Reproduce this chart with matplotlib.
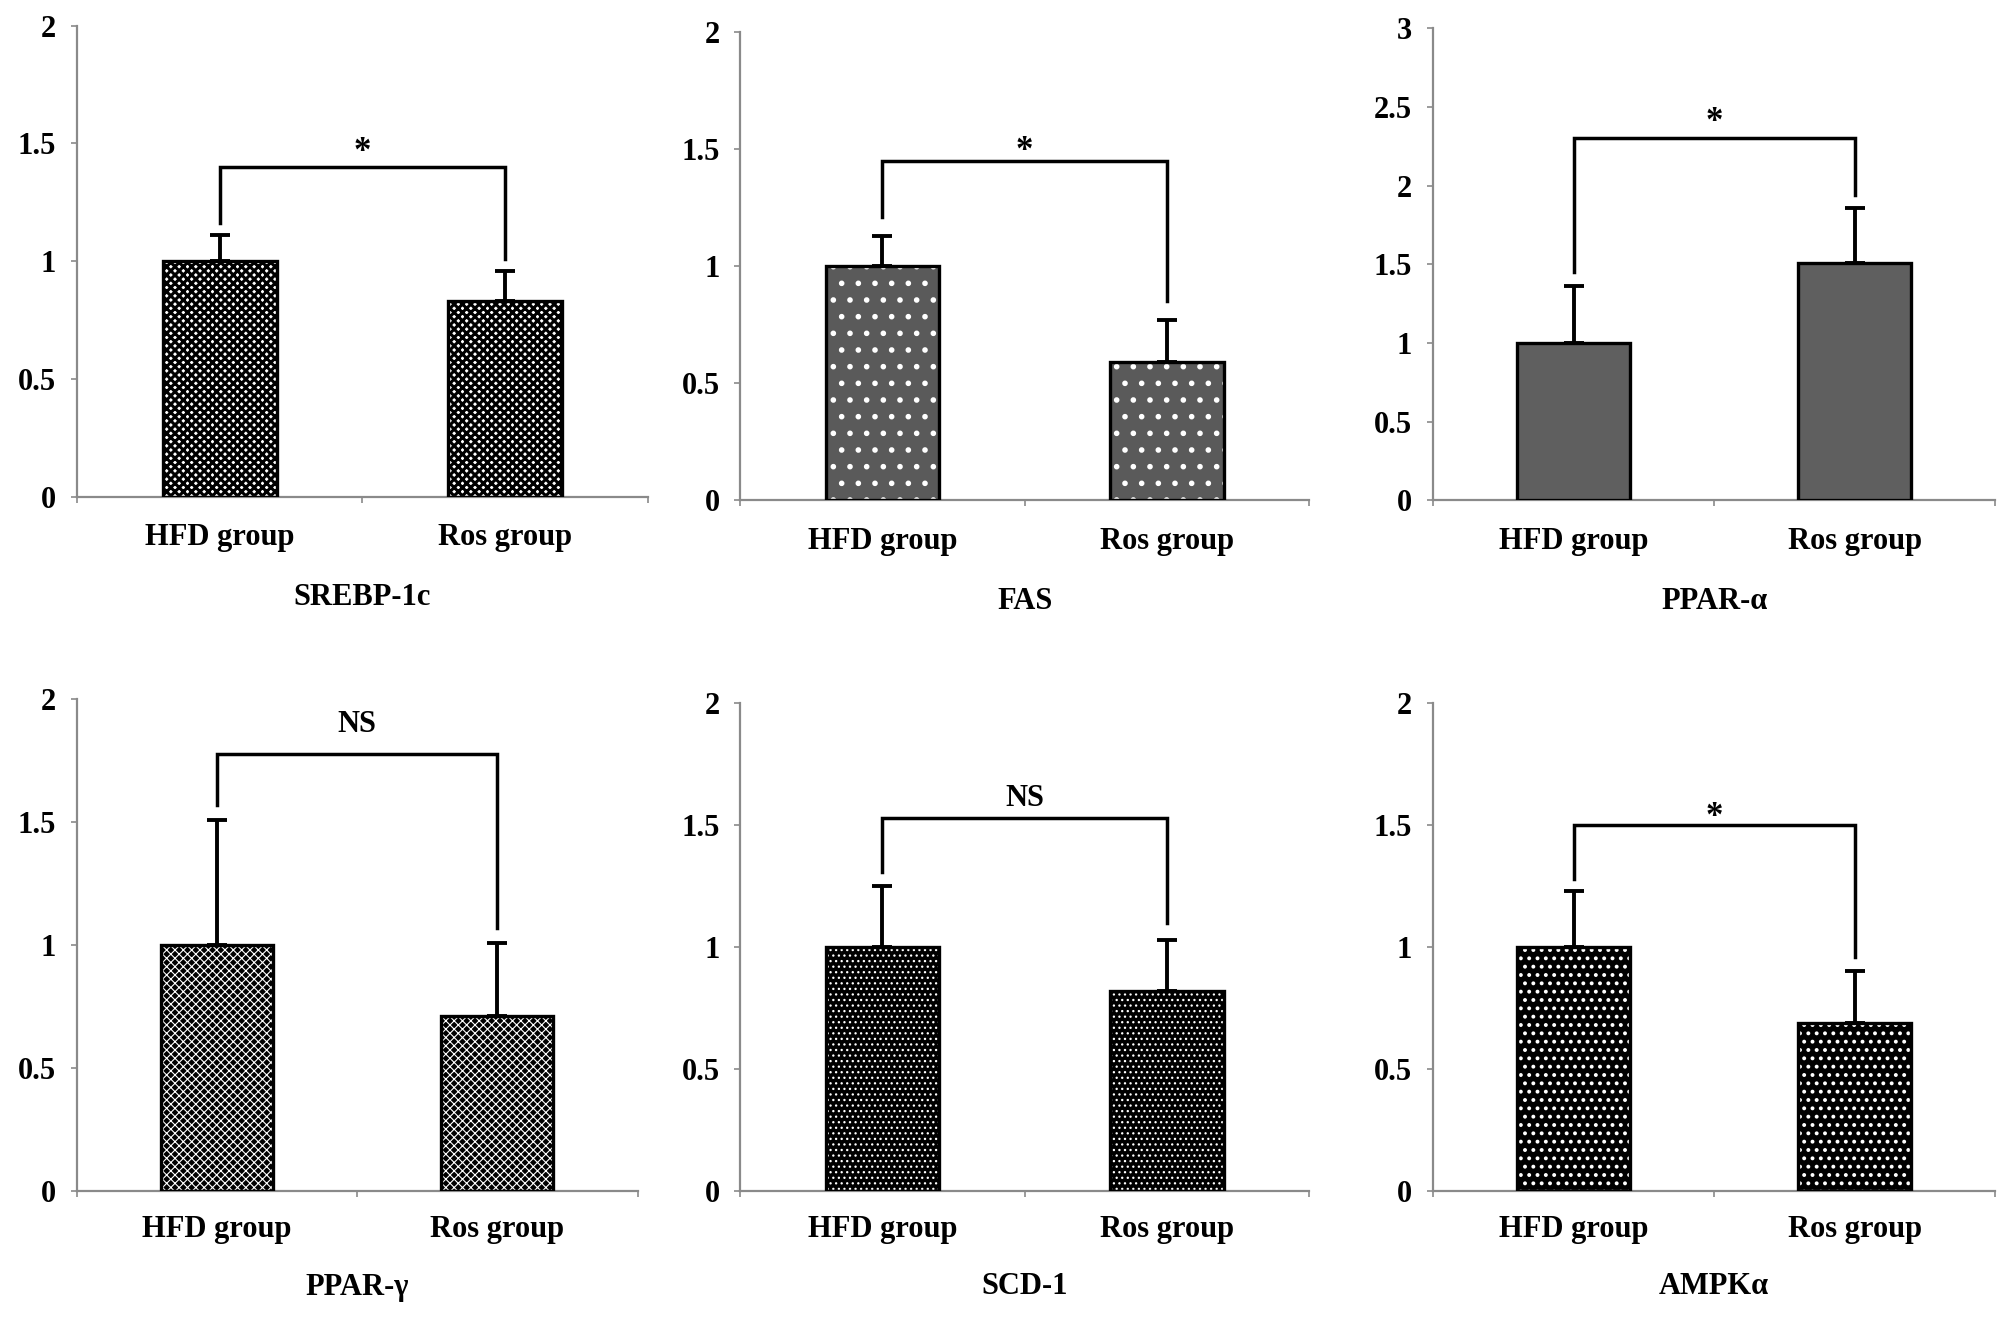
import matplotlib
matplotlib.use("Agg")
import matplotlib.pyplot as plt
import numpy as np

# ---------------- data ----------------
genes = ['SREBP-1c', 'FAS', 'PPAR-α', 'PPAR-γ', 'SCD-1', 'AMPKα']
groups = ['HFD group', 'Ros group']
hfd_mean = [1.00, 1.00, 1.00, 1.00, 1.00, 1.00]
ros_mean = [0.83, 0.59, 1.51, 0.71, 0.82, 0.69]
hfd_err = [0.11, 0.13, 0.36, 0.51, 0.25, 0.23]
ros_err = [0.13, 0.18, 0.35, 0.30, 0.21, 0.21]
bracket_top = [1.40, 1.45, 2.30, 1.78, 1.53, 1.50]
bracket_left_end = [1.16, 1.21, 1.45, 1.57, 1.31, 1.28]
bracket_right_end = [1.01, 0.85, 1.94, 1.07, 1.10, 0.96]
sig_labels = ['*', '*', '*', 'NS', 'NS', '*']
sig_label_y = [1.46, 1.49, 2.40, 1.90, 1.61, 1.53]
y_max = [2, 2, 3, 2, 2, 2]
y_step = [0.5, 0.5, 0.5, 0.5, 0.5, 0.5]

# ---------------- styling ----------------
FONT = 'Liberation Serif'
plt.rcParams['font.family'] = [FONT, 'DejaVu Serif']
plt.rcParams['font.weight'] = 'bold'
FS = 22

# (face colour, hatch colour, hatch, hatch linewidth)
styles = [
    ('white', 'black', 'xxxx', 2.2),
    ('#5a5a5a', 'white', '.', 1.6),
    ('#5f5f5f', '#5f5f5f', '', 1.0),
    ('black', 'white', 'xxxx', 0.8),
    ('black', 'white', '...', 0.9),
    ('black', 'white', '..', 1.6),
]

# axes rectangles (figure fractions)
positions = [
    [0.0383, 0.6232, 0.2844, 0.3573],
    [0.3687, 0.6203, 0.2831, 0.3554],
    [0.7137, 0.6203, 0.2799, 0.3583],
    [0.0383, 0.0964, 0.2792, 0.3729],
    [0.3687, 0.0964, 0.2831, 0.3700],
    [0.7137, 0.0964, 0.2799, 0.3700],
]

fig = plt.figure(figsize=(20.08, 13.18), dpi=100)
axis_gray = '#8a8a8a'
x = np.arange(len(groups))
width = 0.40

for i, gene in enumerate(genes):
    ax = fig.add_axes(positions[i])
    means = [hfd_mean[i], ros_mean[i]]
    errs = [hfd_err[i], ros_err[i]]
    face, hcol, hatch, hlw = styles[i]

    # patterned fill layer
    with plt.rc_context({'hatch.linewidth': hlw}):
        fill = ax.bar(x, means, width, facecolor=face, edgecolor=hcol,
                      hatch=hatch if hatch else None, linewidth=0, zorder=2)
        for p in fill:
            if hasattr(p, 'set_hatch_linewidth'):
                p.set_hatch_linewidth(hlw)
    # outline layer
    ax.bar(x, means, width, fill=False, edgecolor='black', linewidth=2.4, zorder=3)
    # upper error bars
    ax.errorbar(x, means, yerr=[np.zeros(2), errs], fmt='none', ecolor='black',
                elinewidth=2.8, capsize=7, capthick=2.8, zorder=4)

    # significance bracket
    ax.plot([x[0], x[0], x[1], x[1]],
            [bracket_left_end[i], bracket_top[i], bracket_top[i], bracket_right_end[i]],
            color='black', linewidth=2.5, solid_joinstyle='miter', zorder=5)
    ax.text((x[0] + x[1]) / 2, sig_label_y[i], sig_labels[i], ha='center', va='center',
            fontsize=(25 if sig_labels[i] == '*' else FS), fontweight='bold', family=FONT)

    # axes
    ax.set_xlim(-0.5, 1.5)
    ax.set_ylim(0, y_max[i])
    ticks = np.arange(0, y_max[i] + 1e-9, y_step[i])
    ax.set_yticks(ticks)
    ax.set_yticklabels([('%g' % v) for v in ticks], fontsize=FS, fontweight='bold', family=FONT)
    ax.set_xticks(x)
    ax.set_xticklabels(groups, fontsize=FS, fontweight='bold', family=FONT)
    ax.set_xticks([-0.5, 0.5, 1.5], minor=True)
    ax.tick_params(axis='x', which='major', length=0, pad=19 if i < 3 else 17)
    ax.tick_params(axis='x', which='minor', length=4, width=1.2, color=axis_gray, direction='out')
    ax.tick_params(axis='y', which='major', length=4, width=1.2, color=axis_gray, pad=11)
    for s in ['top', 'right']:
        ax.spines[s].set_visible(False)
    for s in ['left', 'bottom']:
        ax.spines[s].set_color(axis_gray)
        ax.spines[s].set_linewidth(1.6)
    ax.set_facecolor('none')

    title_y = -0.215 if i < 3 else -0.196
    ax.text(0.5, title_y, gene, transform=ax.transAxes, ha='center', va='center',
            fontsize=FS, fontweight='bold', family=FONT)

fig.savefig('out.png', dpi=100, facecolor='white')
